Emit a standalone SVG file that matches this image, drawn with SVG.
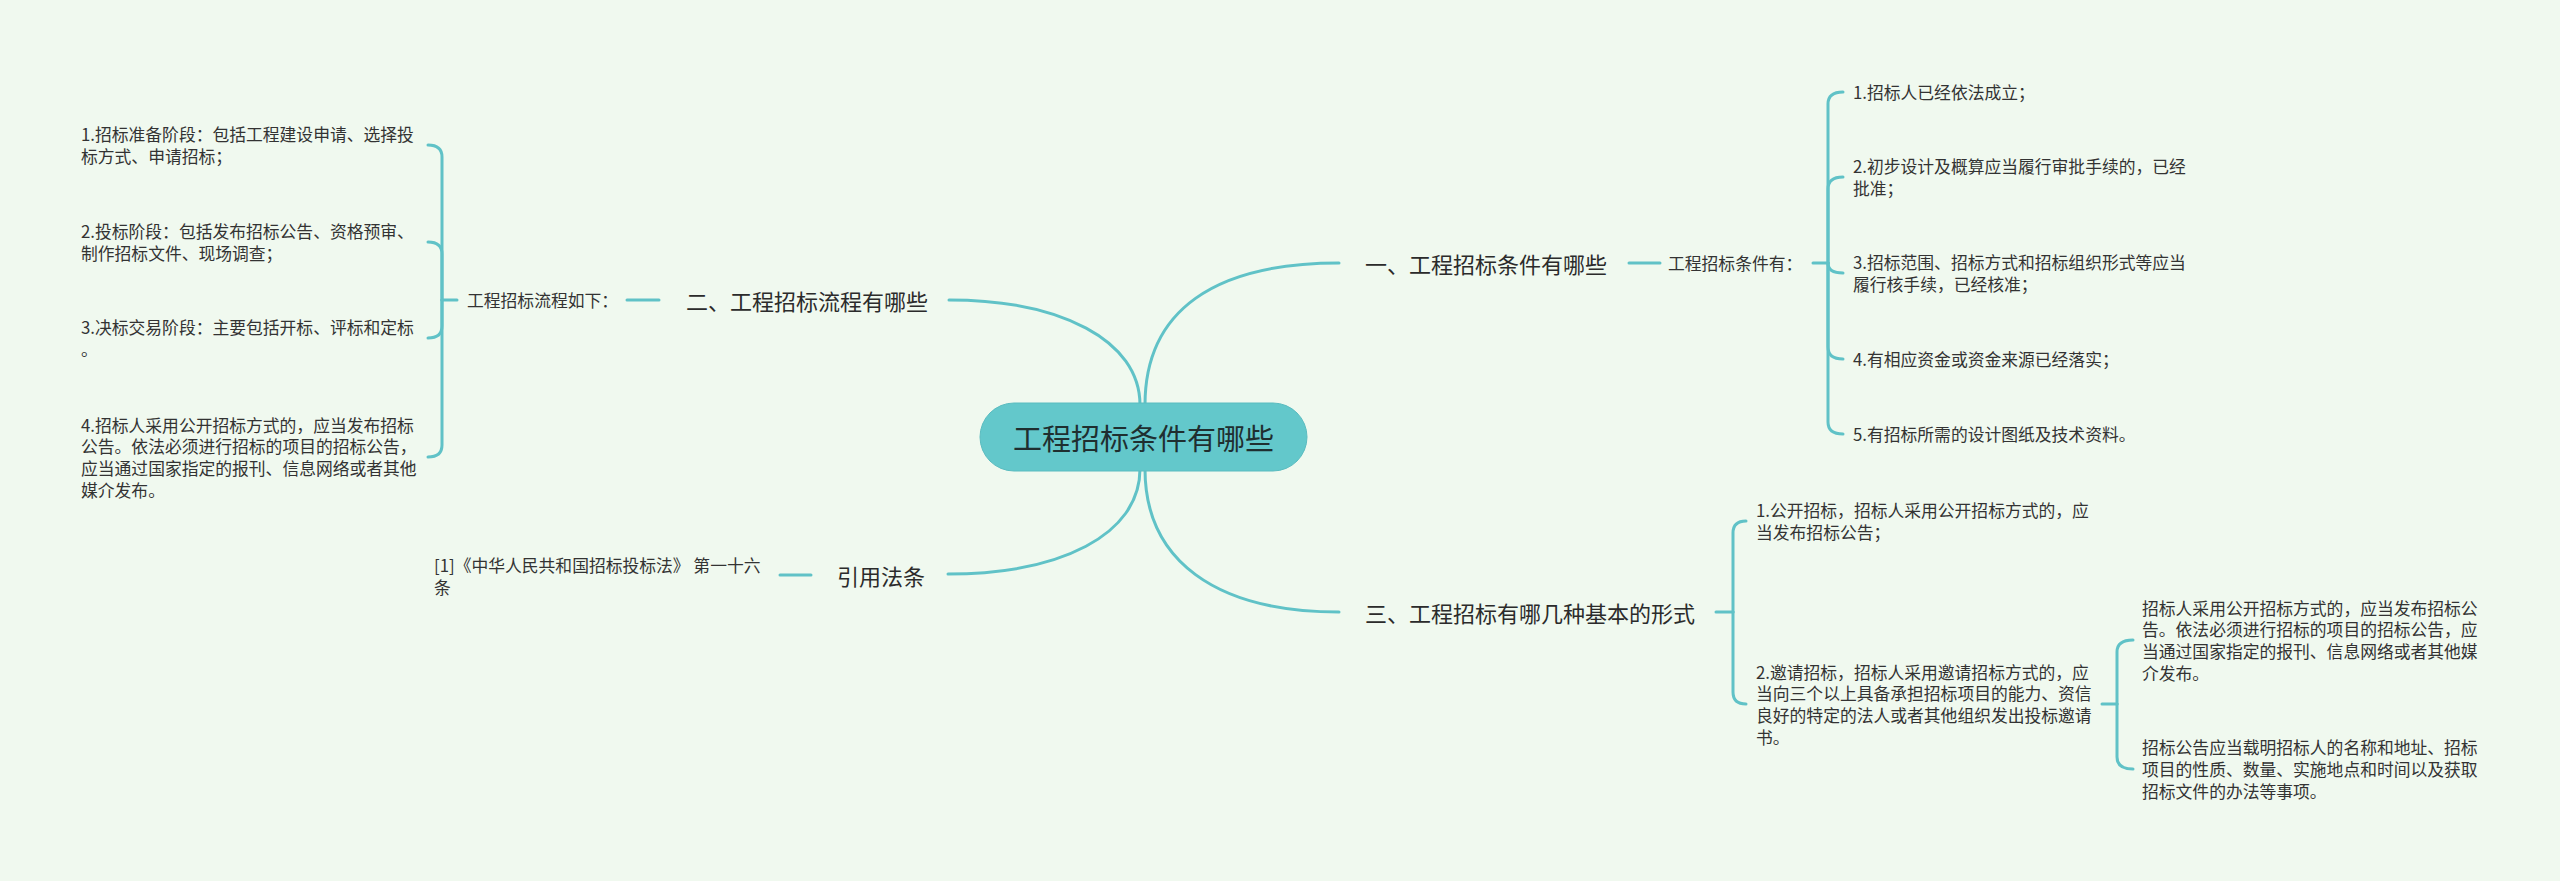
<svg xmlns="http://www.w3.org/2000/svg" width="2560" height="881" viewBox="0 0 2560 881">
<style>
text{font-family:"Noto Sans CJK SC","Noto Sans",sans-serif;fill:#333;dominant-baseline:central}
.sm{font-size:16.8px}
.br{font-size:22px;fill:#2b2b2b}
.ct{font-size:29px;fill:#1f2f30}
.ln{fill:none;stroke:#60c2c7;stroke-width:3;stroke-linecap:round}
</style>
<rect width="2560" height="881" fill="#f0f9ef"/>
<g id="connectors">
<path class="ln" d="M1145,405 C1145,310 1215,263 1339,263"/>
<path class="ln" d="M1140,405 C1140,340 1060,300 949,300"/>
<path class="ln" d="M1140,469 C1140,535 1060,574 948,574"/>
<path class="ln" d="M1145,469 C1145,560 1215,612 1339,612"/>
<path class="ln" d="M1629,263 H1660"/>
<path class="ln" d="M627,300 H659"/>
<path class="ln" d="M780,575 H811"/>
<path class="ln" d="M1813,263 H1828"/>
<path class="ln" d="M1828,263 V104 Q1828,92 1843,92"/>
<path class="ln" d="M1828,263 V189 Q1828,177 1843,177"/>
<path class="ln" d="M1828,263 Q1828,273 1843,273"/>
<path class="ln" d="M1828,263 V347 Q1828,359 1843,359"/>
<path class="ln" d="M1828,263 V422 Q1828,434 1843,434"/>
<path class="ln" d="M457,300 H442"/>
<path class="ln" d="M442,300 V157 Q442,145 428,145"/>
<path class="ln" d="M442,300 V254 Q442,242 428,242"/>
<path class="ln" d="M442,300 V326 Q442,338 428,338"/>
<path class="ln" d="M442,300 V445 Q442,457 428,457"/>
<path class="ln" d="M1716,612 H1733"/>
<path class="ln" d="M1733,612 V533 Q1733,521 1746,521"/>
<path class="ln" d="M1733,612 V692 Q1733,704 1746,704"/>
<path class="ln" d="M2102,704 H2117"/>
<path class="ln" d="M2117,704 V652 Q2117,640 2133,640"/>
<path class="ln" d="M2117,704 V757 Q2117,769 2133,769"/>
</g>
<g id="center">
<rect x="980" y="403" width="327" height="68" rx="34" fill="#63c8cb" stroke="#5bbcc0" stroke-width="1"/>
<text class="ct" x="1143.5" y="437" text-anchor="middle">工程招标条件有哪些</text>
</g>
<g id="b1"><text class="br" x="1365" y="263">一、工程招标条件有哪些</text></g>
<g id="b2"><text class="br" x="686" y="300">二、工程招标流程有哪些</text></g>
<g id="b3"><text class="br" x="1365" y="612">三、工程招标有哪几种基本的形式</text></g>
<g id="b4"><text class="br" x="837" y="575">引用法条</text></g>
<g id="l1"><text class="sm" x="1668" y="263">工程招标条件有：</text></g>
<g id="l2"><text class="sm" x="467" y="300">工程招标流程如下：</text></g>
<g id="law"><text class="sm" x="434"><tspan x="434" y="565">[1]《中华人民共和国招标投标法》 第一十六</tspan><tspan x="434" y="587">条</tspan></text></g>
<g id="p1"><text class="sm"><tspan x="81" y="134.2">1.招标准备阶段：包括工程建设申请、选择投</tspan><tspan x="81" y="155.8">标方式、申请招标；</tspan></text></g>
<g id="p2"><text class="sm"><tspan x="81" y="231.2">2.投标阶段：包括发布招标公告、资格预审、</tspan><tspan x="81" y="252.8">制作招标文件、现场调查；</tspan></text></g>
<g id="p3"><text class="sm"><tspan x="81" y="327.2">3.决标交易阶段：主要包括开标、评标和定标</tspan><tspan x="81" y="348.8">。</tspan></text></g>
<g id="p4"><text class="sm"><tspan x="81" y="424.5">4.招标人采用公开招标方式的，应当发布招标</tspan><tspan x="81" y="446.2">公告。依法必须进行招标的项目的招标公告，</tspan><tspan x="81" y="467.8">应当通过国家指定的报刊、信息网络或者其他</tspan><tspan x="81" y="489.5">媒介发布。</tspan></text></g>
<g id="c1"><text class="sm" x="1853" y="92">1.招标人已经依法成立；</text></g>
<g id="c2"><text class="sm"><tspan x="1853" y="166.2">2.初步设计及概算应当履行审批手续的，已经</tspan><tspan x="1853" y="187.8">批准；</tspan></text></g>
<g id="c3"><text class="sm"><tspan x="1853" y="262.2">3.招标范围、招标方式和招标组织形式等应当</tspan><tspan x="1853" y="283.8">履行核手续，已经核准；</tspan></text></g>
<g id="c4"><text class="sm" x="1853" y="359">4.有相应资金或资金来源已经落实；</text></g>
<g id="c5"><text class="sm" x="1853" y="434">5.有招标所需的设计图纸及技术资料。</text></g>
<g id="f1"><text class="sm"><tspan x="1756" y="510.2">1.公开招标，招标人采用公开招标方式的，应</tspan><tspan x="1756" y="531.8">当发布招标公告；</tspan></text></g>
<g id="f2"><text class="sm"><tspan x="1756" y="671.5">2.邀请招标，招标人采用邀请招标方式的，应</tspan><tspan x="1756" y="693.2">当向三个以上具备承担招标项目的能力、资信</tspan><tspan x="1756" y="714.8">良好的特定的法人或者其他组织发出投标邀请</tspan><tspan x="1756" y="736.5">书。</tspan></text></g>
<g id="g1"><text class="sm"><tspan x="2142" y="607.5">招标人采用公开招标方式的，应当发布招标公</tspan><tspan x="2142" y="629.2">告。依法必须进行招标的项目的招标公告，应</tspan><tspan x="2142" y="650.8">当通过国家指定的报刊、信息网络或者其他媒</tspan><tspan x="2142" y="672.5">介发布。</tspan></text></g>
<g id="g2"><text class="sm"><tspan x="2142" y="747.3">招标公告应当载明招标人的名称和地址、招标</tspan><tspan x="2142" y="769">项目的性质、数量、实施地点和时间以及获取</tspan><tspan x="2142" y="790.7">招标文件的办法等事项。</tspan></text></g>
</svg>
